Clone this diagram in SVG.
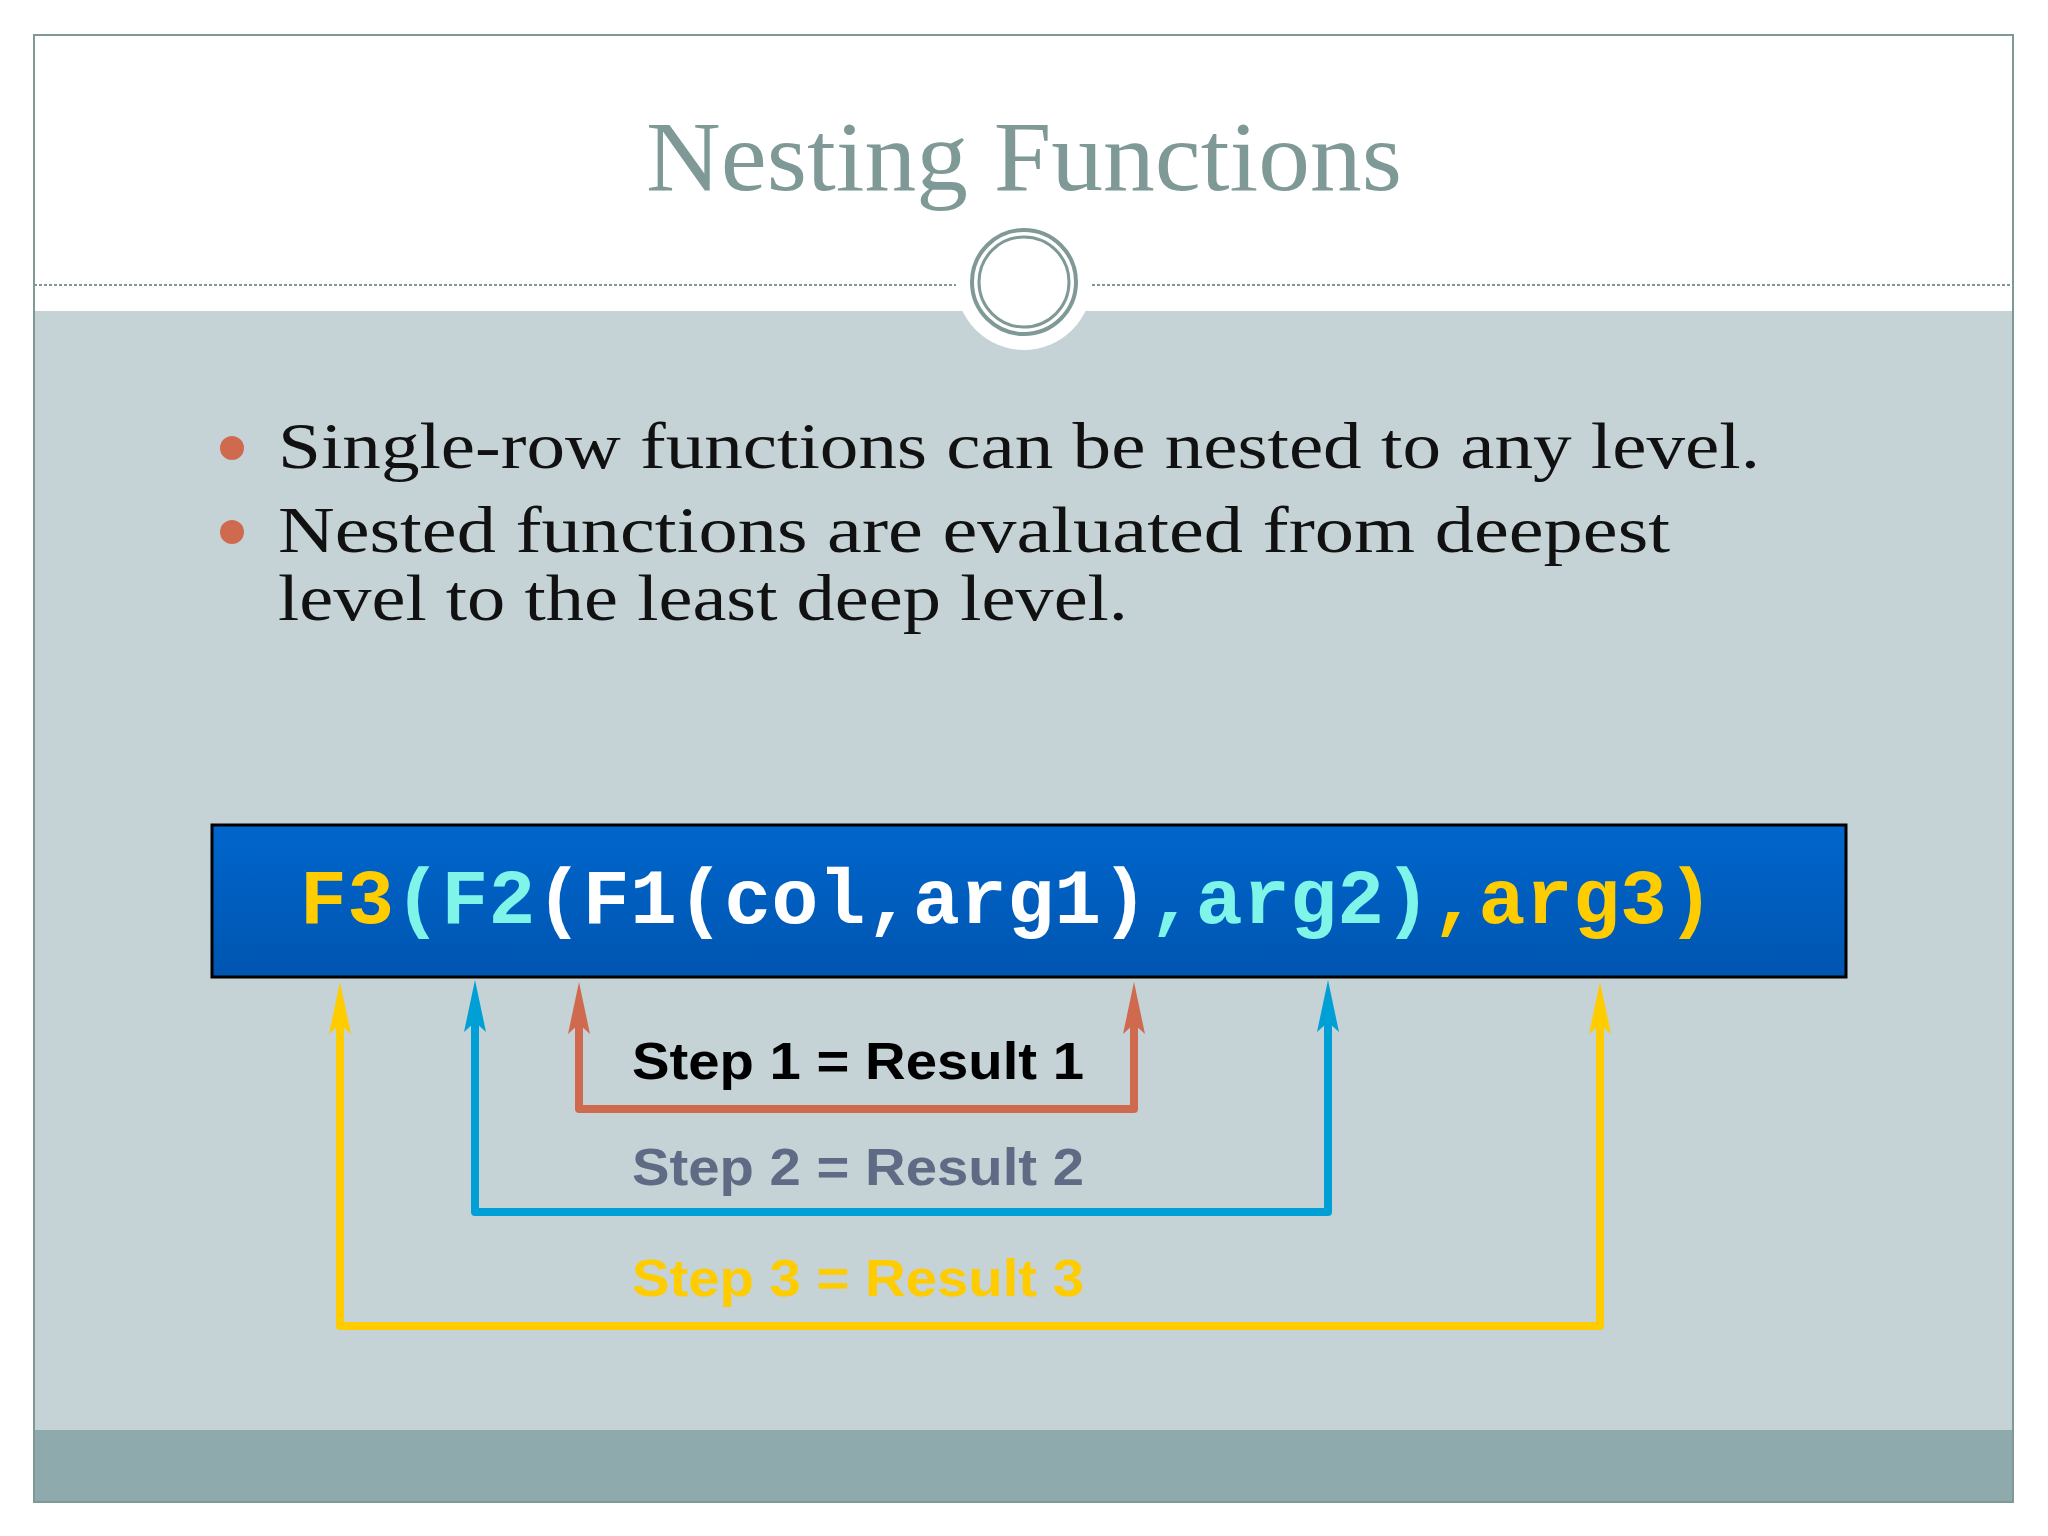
<svg xmlns="http://www.w3.org/2000/svg" width="2048" height="1536" viewBox="0 0 2048 1536">
<defs>
<linearGradient id="bg" x1="0" y1="0" x2="0" y2="1"><stop offset="0" stop-color="#0066cc"/><stop offset="1" stop-color="#0055b0"/></linearGradient>
<style>
.t{font-family:"Liberation Serif",serif}
.b{font-family:"Liberation Serif",serif;font-size:66px;fill:#111}
.s{font-family:"Liberation Sans",Arial,sans-serif;font-weight:bold;font-size:52px}
.c{font-family:"Liberation Mono",monospace;font-weight:bold;font-size:78px}
.ln{fill:none;stroke-width:8;stroke-linejoin:round}
</style>
</defs>
<rect width="2048" height="1536" fill="#fff"/>
<rect x="34" y="311" width="1979" height="1119" fill="#c5d2d6"/>
<rect x="34" y="1430" width="1979" height="72" fill="#8faaac"/>
<rect x="34" y="35" width="1979" height="1467" fill="none" stroke="#7f9a96" stroke-width="2"/>
<line x1="34" y1="285" x2="956" y2="285" stroke="#7f9a96" stroke-width="2" stroke-dasharray="3,2"/>
<line x1="1092" y1="285" x2="2013" y2="285" stroke="#7f9a96" stroke-width="2" stroke-dasharray="3,2"/>
<g id="emblem">
<circle cx="1024" cy="282" r="68" fill="#fff"/>
<circle cx="1024" cy="282" r="52" fill="none" stroke="#7f9a96" stroke-width="4"/>
<circle cx="1024" cy="282" r="45" fill="none" stroke="#7f9a96" stroke-width="3"/>
</g>
<text class="t" x="1024" y="190" text-anchor="middle" font-size="100" fill="#7f9a96" textLength="756" lengthAdjust="spacingAndGlyphs">Nesting Functions</text>
<g id="bullets">
<circle cx="232" cy="448" r="12" fill="#d06a4e"/>
<circle cx="232" cy="532" r="12" fill="#d06a4e"/>
<text class="b" x="278" y="468" textLength="1482" lengthAdjust="spacingAndGlyphs">Single-row functions can be nested to any level.</text>
<text class="b" x="278" y="552" textLength="1392" lengthAdjust="spacingAndGlyphs">Nested functions are evaluated from deepest</text>
<text class="b" x="278" y="620" textLength="850" lengthAdjust="spacingAndGlyphs">level to the least deep level.</text>
</g>
<g id="code">
<rect x="212" y="825" width="1634" height="152" fill="url(#bg)" stroke="#000" stroke-width="3"/>
<text class="c" x="300" y="923" textLength="1414" lengthAdjust="spacing"><tspan fill="#ffcc00">F3</tspan><tspan fill="#7ff5ea">(F2</tspan><tspan fill="#fff">(F1(col,arg1)</tspan><tspan fill="#7ff5ea">,arg2)</tspan><tspan fill="#ffcc00">,arg3)</tspan></text>
</g>
<g id="connectors">
<polyline class="ln" stroke="#ffcc00" points="340,1010 340,1326 1600,1326 1600,1010"/>
<polyline class="ln" stroke="#00a0d6" points="475,1010 475,1212 1328,1212 1328,1010"/>
<polyline class="ln" stroke="#d06a4e" points="579,1010 579,1109 1134,1109 1134,1010"/>
<path d="M340,982 L351,1034 L340,1024 L329,1034 Z" fill="#ffcc00"/>
<path d="M1600,982 L1611,1034 L1600,1024 L1589,1034 Z" fill="#ffcc00"/>
<path d="M475,980 L486,1032 L475,1022 L464,1032 Z" fill="#00a0d6"/>
<path d="M1328,980 L1339,1032 L1328,1022 L1317,1032 Z" fill="#00a0d6"/>
<path d="M579,982 L590,1034 L579,1024 L568,1034 Z" fill="#d06a4e"/>
<path d="M1134,982 L1145,1034 L1134,1024 L1123,1034 Z" fill="#d06a4e"/>
</g>
<g id="labels">
<text class="s" x="632" y="1079" fill="#000" textLength="452" lengthAdjust="spacingAndGlyphs">Step 1 = Result 1</text>
<text class="s" x="632" y="1185" fill="#5f6a85" textLength="452" lengthAdjust="spacingAndGlyphs">Step 2 = Result 2</text>
<text class="s" x="632" y="1296" fill="#ffcc00" textLength="452" lengthAdjust="spacingAndGlyphs">Step 3 = Result 3</text>
</g>
</svg>
